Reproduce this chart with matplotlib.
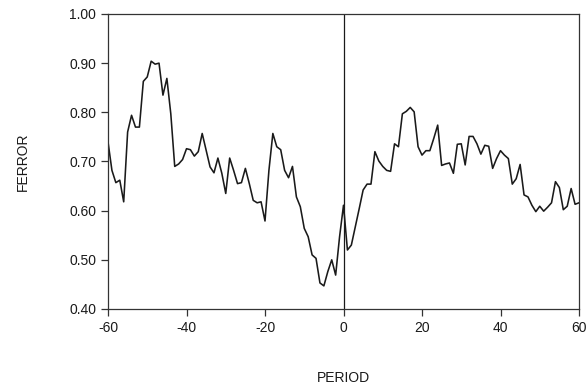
import numpy as np
import matplotlib.pyplot as plt

plt.rcParams['font.family'] = ['Liberation Sans', 'DejaVu Sans']

# period -60 .. 60, one value per period
period = np.arange(-60, 61)
ferror = [
    0.740, 0.682, 0.657, 0.662, 0.618, 0.760, 0.794, 0.770, 0.770, 0.863,  # -60..-51
    0.872, 0.904, 0.898, 0.900, 0.835, 0.869, 0.797, 0.690, 0.695, 0.704,  # -50..-41
    0.726, 0.724, 0.711, 0.720, 0.757, 0.723, 0.689, 0.677, 0.707, 0.676,  # -40..-31
    0.635, 0.707, 0.682, 0.655, 0.657, 0.686, 0.655, 0.621, 0.616, 0.618,  # -30..-21
    0.579, 0.682, 0.757, 0.730, 0.724, 0.682, 0.667, 0.690, 0.628, 0.608,  # -20..-11
    0.564, 0.547, 0.510, 0.503, 0.453, 0.447, 0.476, 0.500, 0.469, 0.547,  # -10..-1
    0.611,                                                                 # 0
    0.520, 0.530, 0.567, 0.604, 0.642, 0.654, 0.654, 0.720, 0.701, 0.690,  # 1..10
    0.682, 0.680, 0.736, 0.730, 0.797, 0.802, 0.810, 0.801, 0.730, 0.713,  # 11..20
    0.722, 0.722, 0.747, 0.774, 0.692, 0.695, 0.697, 0.676, 0.735, 0.736,  # 21..30
    0.693, 0.751, 0.751, 0.736, 0.715, 0.733, 0.731, 0.686, 0.706, 0.722,  # 31..40
    0.713, 0.706, 0.654, 0.665, 0.694, 0.632, 0.628, 0.611, 0.598, 0.609,  # 41..50
    0.599, 0.607, 0.616, 0.659, 0.647, 0.602, 0.609, 0.645, 0.613, 0.616,  # 51..60
]

xticks = [-60, -40, -20, 0, 20, 40, 60]
yticks = [0.40, 0.50, 0.60, 0.70, 0.80, 0.90, 1.00]

fig = plt.figure(figsize=(5.88, 3.89), dpi=100)
ax = fig.add_axes([108/588, 1-309/389, 471/588, 295/389])

ax.plot(period, ferror, c='#1a1a1a', lw=1.15)
ax.axvline(0, c='#1a1a1a', lw=0.9)

ax.set_xlim(-60, 60)
ax.set_ylim(0.40, 1.00)
ax.set_xticks(xticks)
ax.set_xticklabels(['{}'.format(t) for t in xticks])
ax.set_yticks(yticks)
ax.set_yticklabels(['{:.2f}'.format(t) for t in yticks])

for s in ax.spines.values():
    s.set_color('#333333')
    s.set_linewidth(0.9)
ax.tick_params(direction='out', length=5, width=0.9, color='#333333',
               labelsize=10, labelcolor='#1a1a1a')

ax.set_xlabel("PERIOD", fontsize=10, color='#1a1a1a')
ax.set_ylabel("FERROR", fontsize=10, color='#1a1a1a')
ax.xaxis.set_label_coords(0.5, -0.21)
ax.yaxis.set_label_coords(-0.165, 0.5)

fig.savefig("out.png", dpi=100)
